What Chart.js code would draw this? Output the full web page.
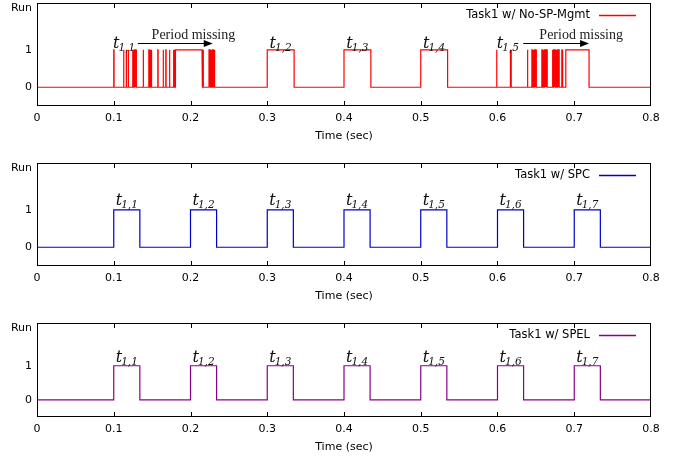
<!DOCTYPE html>
<html>
<head>
<meta charset="utf-8">
<script src="https://cdn.jsdelivr.net/npm/chart.js@4.4.0/dist/chart.umd.min.js"></script>
<style>
  body { margin: 0; background: #fff; }
  .panel { position: absolute; left: 0; width: 683px; }
</style>
</head>
<body>
<div class="panel" style="top:0px"><canvas id="c1" width="683" height="160"></canvas></div>
<div class="panel" style="top:160px"><canvas id="c2" width="683" height="160"></canvas></div>
<div class="panel" style="top:320px"><canvas id="c3" width="683" height="151"></canvas></div>
<script>
// axis ticks
const xTicks = [0, 0.1, 0.2, 0.3, 0.4, 0.5, 0.6, 0.7, 0.8];
const yTickValues = [0, 1, 2.1];
const yTickLabels = ["0", "1", "Run"];

// run intervals [start, end] (sec) - task is running (1) inside each one
const noSpRuns = [
  [0.1000, 0.1004], [0.1128, 0.1132], [0.1162, 0.1166], [0.1188, 0.1192],
  [0.1245, 0.1249], [0.1256, 0.1260], [0.1266, 0.1270], [0.1276, 0.1280], [0.1286, 0.1290], [0.1294, 0.1298],
  [0.1383, 0.1387],
  [0.1457, 0.1461], [0.1467, 0.1471], [0.1477, 0.1481], [0.1490, 0.1494],
  [0.1574, 0.1578], [0.1643, 0.1647], [0.1678, 0.1682], [0.1726, 0.1730],
  [0.1778, 0.1782], [0.1788, 0.1792],
  [0.1804, 0.2150],
  [0.2154, 0.2158], [0.2164, 0.2168],
  [0.2241, 0.2245], [0.2252, 0.2256], [0.2262, 0.2266], [0.2272, 0.2276],
  [0.2282, 0.2286], [0.2292, 0.2296], [0.2302, 0.2306], [0.2311, 0.2315],
  [0.3000, 0.3350], [0.4000, 0.4350], [0.5000, 0.5350],
  [0.5988, 0.5992],
  [0.6166, 0.6170], [0.6176, 0.6180],
  [0.6390, 0.6394],
  [0.6448, 0.6452], [0.6458, 0.6462], [0.6468, 0.6472], [0.6478, 0.6482], [0.6488, 0.6492], [0.6498, 0.6502], [0.6505, 0.6509],
  [0.6578, 0.6582], [0.6588, 0.6592], [0.6598, 0.6602], [0.6608, 0.6612], [0.6618, 0.6622], [0.6628, 0.6632], [0.6638, 0.6642], [0.6644, 0.6648],
  [0.6716, 0.6720], [0.6726, 0.6730], [0.6736, 0.6740], [0.6746, 0.6750], [0.6756, 0.6760],
  [0.6766, 0.6770], [0.6776, 0.6780], [0.6786, 0.6790], [0.6796, 0.6800], [0.6800, 0.6804],
  [0.6838, 0.6842], [0.6848, 0.6852],
  [0.6890, 0.7193]
];
const spcRuns = [
  [0.1, 0.134], [0.2, 0.234], [0.3, 0.334], [0.4, 0.434], [0.5, 0.534], [0.6, 0.634], [0.7, 0.734]
];
const spelRuns = [
  [0.1, 0.134], [0.2, 0.234], [0.3, 0.334], [0.4, 0.434], [0.5, 0.534], [0.6, 0.634], [0.7, 0.734]
];

// job labels t_{1,k}
const noSpJobs = ["1,1", "1,2", "1,3", "1,4", "1,5"];
const noSpJobX = [0.1135, 0.3175, 0.4175, 0.5175, 0.6135];
const spJobs = ["1,1", "1,2", "1,3", "1,4", "1,5", "1,6", "1,7"];
const spJobX = [0.117, 0.217, 0.317, 0.417, 0.517, 0.617, 0.717];

// "Period missing" notes: text centre x, arrow from/to
const missText = ["Period missing", "Period missing"];
const missTextX = [0.2038, 0.709];
const missArrowFrom = [0.1314, 0.6335];
const missArrowTo = [0.2290, 0.7193];

function stepPoints(runs) {
  const pts = [{ x: 0, y: 0 }];
  runs.forEach(([s, e]) => {
    pts.push({ x: s, y: 0 }, { x: s, y: 1 }, { x: e, y: 1 }, { x: e, y: 0 });
  });
  pts.push({ x: 0.8, y: 0 });
  return pts;
}

const overlay = {
  id: "overlay",
  afterDraw(chart, args, o) {
    const { ctx, chartArea: a } = chart;
    const x = chart.scales.x, y = chart.scales.y;
    const lineColor = chart.data.datasets[0].borderColor;
    ctx.save();
    // border
    ctx.strokeStyle = "#000";
    ctx.lineWidth = 1;
    ctx.strokeRect(a.left + 0.5, a.top + 0.5, a.right - a.left - 1, a.bottom - a.top - 1);
    // inward x ticks, top and bottom
    ctx.beginPath();
    xTicks.slice(1, -1).forEach((v) => {
      const px = Math.round(x.getPixelForValue(v)) + 0.5;
      ctx.moveTo(px, a.bottom); ctx.lineTo(px, a.bottom - 5);
      ctx.moveTo(px, a.top); ctx.lineTo(px, a.top + 5);
    });
    ctx.stroke();

    // legend
    ctx.font = "11.5px 'DejaVu Sans'";
    ctx.fillStyle = "#000";
    ctx.textAlign = "right";
    ctx.textBaseline = "middle";
    ctx.fillText(chart.data.datasets[0].label, a.right - 61, a.top + 12);
    ctx.strokeStyle = lineColor;
    ctx.lineWidth = 1.5;
    ctx.beginPath();
    ctx.moveTo(a.right - 52, a.top + 12.5);
    ctx.lineTo(a.right - 15, a.top + 12.5);
    ctx.stroke();

    // job labels
    ctx.fillStyle = "#111";
    ctx.textBaseline = "alphabetic";
    ctx.textAlign = "left";
    o.jobs.forEach((sub, i) => {
      ctx.font = "italic 16px 'DejaVu Serif'";
      const wt = ctx.measureText("t").width;
      ctx.font = "italic 10.5px 'DejaVu Serif'";
      const ws = ctx.measureText(sub).width;
      const cx = x.getPixelForValue(o.jobX[i]);
      const by = y.getPixelForValue(o.jobY);
      const left = cx - (wt + ws - 1) / 2;
      ctx.font = "italic 16px 'DejaVu Serif'";
      ctx.fillText("t", left, by);
      ctx.font = "italic 10.5px 'DejaVu Serif'";
      ctx.fillText(sub, left + wt - 1, by + 3);
    });

    // period missing notes
    if (o.notes) {
      o.notes.forEach((txt, i) => {
        ctx.font = "14px 'Liberation Serif'";
        ctx.fillStyle = "#222";
        ctx.textAlign = "center";
        ctx.textBaseline = "middle";
        ctx.fillText(txt, x.getPixelForValue(missTextX[i]), y.getPixelForValue(1.39));
        const x0 = x.getPixelForValue(missArrowFrom[i]);
        const x1 = x.getPixelForValue(missArrowTo[i]);
        const ay = Math.round(y.getPixelForValue(1.17)) + 0.5;
        ctx.strokeStyle = "#000";
        ctx.lineWidth = 1;
        ctx.beginPath();
        ctx.moveTo(x0, ay); ctx.lineTo(x1 - 6, ay);
        ctx.stroke();
        ctx.fillStyle = "#000";
        ctx.beginPath();
        ctx.moveTo(x1, ay);
        ctx.lineTo(x1 - 9, ay - 3.5);
        ctx.lineTo(x1 - 9, ay + 3.5);
        ctx.closePath();
        ctx.fill();
      });
    }
    ctx.restore();
  }
};

function makeChart(id, runs, color, legend, jobs, jobX, jobY, notes) {
  return new Chart(document.getElementById(id), {
    type: "line",
    data: {
      datasets: [{
        label: legend,
        data: stepPoints(runs),
        borderColor: color,
        borderWidth: 1.2,
        pointRadius: 0,
        tension: 0,
        fill: false
      }]
    },
    options: {
      responsive: false,
      animation: false,
      devicePixelRatio: 1,
      layout: { padding: { top: 3, right: 32, left: 0, bottom: 0 } },
      plugins: {
        legend: { display: false },
        tooltip: { enabled: false },
        overlay: { jobs, jobX, jobY, notes }
      },
      scales: {
        x: {
          type: "linear",
          min: 0,
          max: 0.8,
          afterBuildTicks: (s) => { s.ticks = xTicks.map((v) => ({ value: v })); },
          afterFit: (s) => { s.height = 54; },
          grid: { display: false, drawTicks: false },
          border: { display: false },
          ticks: {
            padding: 6,
            color: "#000",
            font: { family: "DejaVu Sans", size: 11 },
            callback: (v) => String(Math.round(v * 10) / 10)
          },
          title: {
            display: true,
            text: "Time (sec)",
            color: "#000",
            font: { family: "DejaVu Sans", size: 11 },
            padding: { top: 0, bottom: 17 }
          }
        },
        y: {
          type: "linear",
          min: -0.5,
          max: 2.25,
          afterBuildTicks: (s) => { s.ticks = yTickValues.map((v) => ({ value: v })); },
          afterFit: (s) => { s.width = 37; s.paddingTop = 0; s.paddingBottom = 0; },
          grid: { display: false, drawTicks: false },
          border: { display: false },
          ticks: {
            padding: 5,
            color: "#000",
            font: { family: "DejaVu Sans", size: 11 },
            callback: (v) => yTickLabels[yTickValues.indexOf(v)]
          }
        }
      }
    },
    plugins: [overlay]
  });
}

makeChart("c1", noSpRuns, "#ff0000", "Task1 w/ No-SP-Mgmt", noSpJobs, noSpJobX, 1.05, missText);
makeChart("c2", spcRuns, "#0000cc", "Task1 w/ SPC", spJobs, spJobX, 1.12, null);
makeChart("c3", spelRuns, "#8b008b", "Task1 w/ SPEL", spJobs, spJobX, 1.12, null);
</script>
</body>
</html>
